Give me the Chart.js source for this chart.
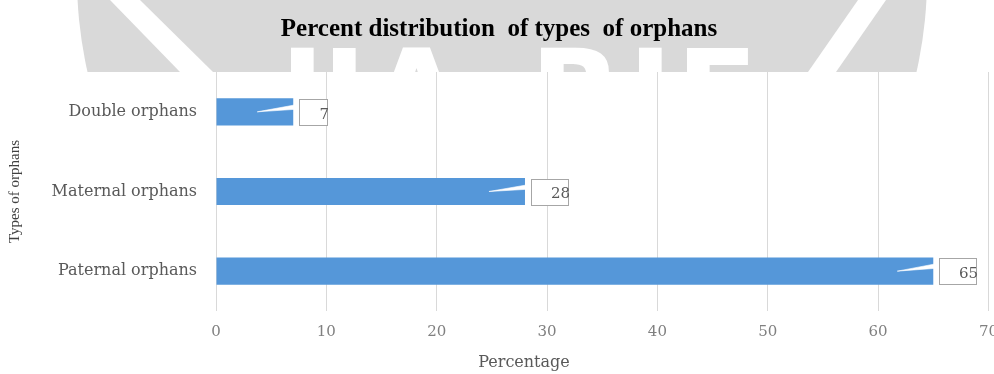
<!DOCTYPE html>
<html>
<head>
<meta charset="utf-8">
<script src="https://cdn.jsdelivr.net/npm/chart.js@4/dist/chart.umd.min.js"></script>
<style>
  html, body { margin: 0; padding: 0; overflow: hidden; background: #fff; }
  #wrap { position: relative; width: 998px; height: 374px; }
</style>
</head>
<body>
<div id="wrap"><canvas id="chart"></canvas></div>
<script>
// Data
const categories = ['Double orphans', 'Maternal orphans', 'Paternal orphans'];
const percentages = [7, 28, 65];
const xTickValues = [0, 10, 20, 30, 40, 50, 60, 70];
const chartTitle = 'Percent distribution  of types  of orphans';
const xAxisTitle = 'Percentage';
const yAxisTitle = 'Types of orphans';
const logoLetters = ['I', 'J', 'A', 'R', 'I', 'E'];

const BAR_BLUE = '#5597d9';
const GRID_GREY = '#d9d9d9';

// Light page logo behind the heading strip
const logoBackdrop = {
  id: 'logoBackdrop',
  beforeDraw(chart) {
    const { ctx, width, height } = chart;
    ctx.save();
    ctx.fillStyle = '#ffffff';
    ctx.fillRect(0, 0, width, height);
    ctx.beginPath();
    ctx.rect(0, 0, width, 72);
    ctx.clip();
    ctx.fillStyle = '#d9d9d9';
    ctx.beginPath();
    ctx.arc(502, -22, 425, 0, Math.PI * 2);
    ctx.fill();
    ctx.fillStyle = '#ffffff';
    // diagonal swooshes
    ctx.beginPath();
    ctx.moveTo(110, 0); ctx.lineTo(140, 0); ctx.lineTo(213, 72); ctx.lineTo(180, 72);
    ctx.closePath(); ctx.fill();
    ctx.beginPath();
    ctx.moveTo(858, 0); ctx.lineTo(886, 0); ctx.lineTo(836, 72); ctx.lineTo(808, 72);
    ctx.closePath(); ctx.fill();
    // big letters
    ctx.font = 'bold 120px "DejaVu Sans"';
    ctx.textBaseline = 'alphabetic';
    ctx.textAlign = 'left';
    const xs = [280, 322, 370, 530, 628, 676];
    logoLetters.forEach((ch, i) => ctx.fillText(ch, xs[i], 135));
    ctx.restore();
  }
};

// Value callouts and the x-axis caption
const callouts = {
  id: 'callouts',
  afterDraw(chart) {
    const { ctx } = chart;
    const meta = chart.getDatasetMeta(0);
    ctx.save();
    ctx.font = '15px "DejaVu Serif"';
    meta.data.forEach((bar, i) => {
      const text = String(percentages[i]);
      const tw = ctx.measureText(text).width;
      const left = Math.round(bar.x) + 6;
      const top = Math.round(bar.y) - 13;
      const h = 26;
      const w = Math.round(tw + 18);
      // pointer into the bar
      ctx.fillStyle = '#ffffff';
      ctx.beginPath();
      ctx.moveTo(left + 1, top + 5);
      ctx.lineTo(bar.x - 36, bar.y);
      ctx.lineTo(left + 1, top + 10);
      ctx.closePath();
      ctx.fill();
      ctx.globalAlpha = 0.6;
      ctx.strokeStyle = '#ffffff';
      ctx.lineWidth = 1;
      ctx.stroke();
      ctx.globalAlpha = 1;
      // box
      ctx.fillRect(left, top, w, h);
      ctx.strokeStyle = '#a6a6a6';
      ctx.strokeRect(left + 0.5, top + 0.5, w, h);
      // value
      ctx.fillStyle = '#595959';
      ctx.textAlign = 'right';
      ctx.textBaseline = 'middle';
      ctx.fillText(text, left + w + 2, bar.y + 3);
    });
    ctx.font = '16px "DejaVu Serif"';
    ctx.fillStyle = '#595959';
    ctx.textAlign = 'center';
    ctx.textBaseline = 'middle';
    ctx.fillText(xAxisTitle, 524, 363);
    ctx.restore();
  }
};

new Chart(document.getElementById('chart'), {
  type: 'bar',
  data: {
    labels: categories,
    datasets: [{
      data: percentages,
      backgroundColor: BAR_BLUE,
      borderWidth: 0,
      categoryPercentage: 1,
      barPercentage: 0.34
    }]
  },
  options: {
    indexAxis: 'y',
    responsive: true,
    maintainAspectRatio: false,
    animation: false,
    layout: { padding: 0 },
    plugins: {
      legend: { display: false },
      tooltip: { enabled: false },
      title: {
        display: true,
        text: chartTitle,
        color: '#000000',
        font: { family: '"Liberation Serif"', size: 25, weight: 'bold', lineHeight: 1.2 },
        padding: { top: 15, bottom: 27 }
      }
    },
    scales: {
      x: {
        type: 'linear',
        min: 0,
        max: 70,
        z: 1,
        afterBuildTicks(scale) {
          scale.ticks = xTickValues.map(v => ({ value: v }));
        },
        afterFit(scale) { scale.height = 63; },
        grid: {
          color: GRID_GREY,
          lineWidth: 1,
          drawTicks: true,
          tickLength: 12,
          tickColor: 'rgba(0,0,0,0)'
        },
        border: { display: false },
        ticks: {
          padding: 0,
          color: '#808080',
          font: { family: '"DejaVu Serif"', size: 15 }
        }
      },
      y: {
        afterFit(scale) { scale.width = 216; },
        grid: { display: false },
        border: { display: false },
        ticks: {
          padding: 11,
          color: '#595959',
          font: { family: '"DejaVu Serif"', size: 16 }
        },
        title: {
          display: true,
          text: yAxisTitle,
          color: '#404040',
          font: { family: '"Liberation Serif"', size: 15 },
          padding: { top: 6, bottom: 0 }
        }
      }
    }
  },
  plugins: [logoBackdrop, callouts]
});
</script>
</body>
</html>
